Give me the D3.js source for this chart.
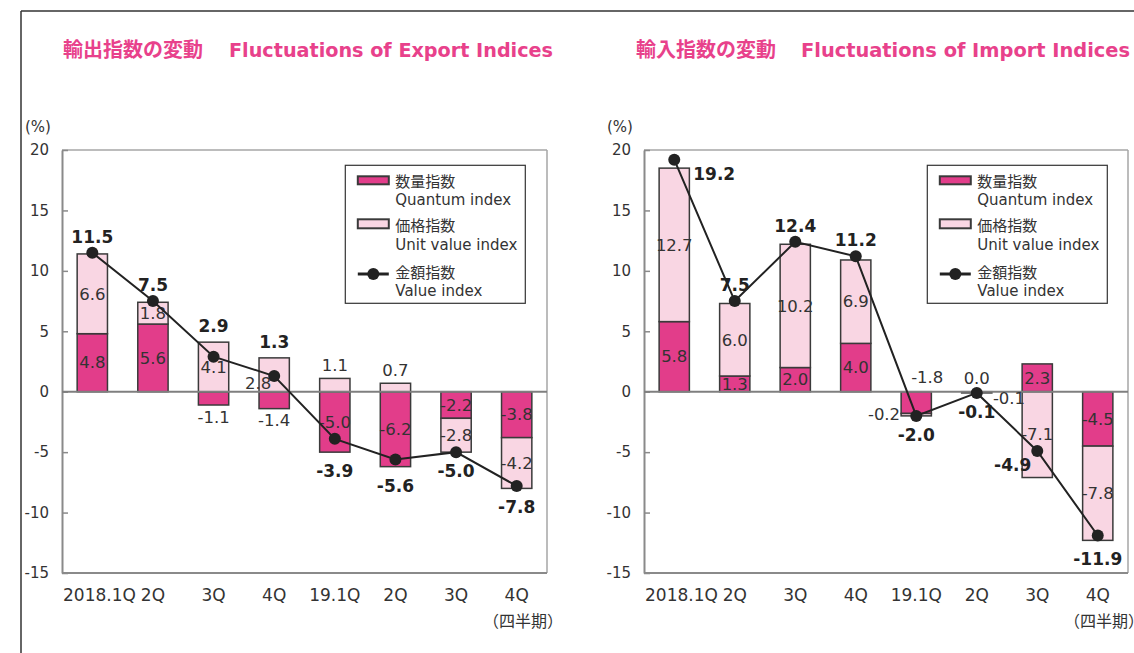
<!DOCTYPE html>
<html><head><meta charset="utf-8">
<script src="https://cdn.jsdelivr.net/npm/d3@7"></script>
<style>
body{margin:0;background:#fff}
svg{display:block}
text{font-family:"DejaVu Sans","Noto Sans CJK JP",sans-serif}
</style>
</head><body>
<svg id="c" width="1134" height="653"></svg>
<script>
// ---------- data ----------
const categories = ["2018.1Q", "2Q", "3Q", "4Q", "19.1Q", "2Q", "3Q", "4Q"];
const yTicks = [-15, -10, -5, 0, 5, 10, 15, 20];

const exportQuantum = [4.8, 5.6, -1.1, -1.4, -5.0, -6.2, -2.2, -3.8];
const exportUnit    = [6.6, 1.8, 4.1, 2.8, 1.1, 0.7, -2.8, -4.2];
const exportValue   = [11.5, 7.5, 2.9, 1.3, -3.9, -5.6, -5.0, -7.8];

const importQuantum = [5.8, 1.3, 2.0, 4.0, -1.8, 0.0, 2.3, -4.5];
const importUnit    = [12.7, 6.0, 10.2, 6.9, -0.2, -0.1, -7.1, -7.8];
const importValue   = [19.2, 7.5, 12.4, 11.2, -2.0, -0.1, -4.9, -11.9];

const legendLabels = [["数量指数", "Quantum index"], ["価格指数", "Unit value index"], ["金額指数", "Value index"]];

// label placement modes (annotation layout)
const exportModes = {
  q: ["in", "in", "out", "out", "in", "in", "in", "in"],
  u: ["in", "in", "in", "inLeft", "out", "out", "in", "in"],
  v: ["auto", "auto", "auto", "auto", "auto", "auto", "auto", "auto"]
};
const importModes = {
  q: ["in", "in", "in", "in", "top", "out", "in", "in"],
  u: ["in", "in", "in", "in", "left", "right", "in", "in"],
  v: ["right", "auto", "auto", "auto", "auto", "auto", "left", "auto"]
};

// ---------- style ----------
const COL = { q: "#e23d8a", u: "#f9d6e3", stroke: "#3a3a3a", text: "#333333", title: "#e8418b", axis: "#8a8a8a", line: "#222222" };

const svg = d3.select("#c");

// outer frame
svg.append("line").attr("x1", 21).attr("x2", 1134).attr("y1", 11).attr("y2", 11)
  .attr("stroke", "#333").attr("stroke-width", 1.5);
svg.append("line").attr("x1", 21).attr("x2", 21).attr("y1", 11).attr("y2", 653)
  .attr("stroke", "#333").attr("stroke-width", 1.5);

function drawChart(opt) {
  const { x0, x1, quantum, unit, value, modes } = opt;
  const yTop = 150, yBot = 573;
  const g = svg.append("g");

  const y = d3.scaleLinear().domain([d3.min(yTicks), d3.max(yTicks)]).range([yBot, yTop]);
  const x = d3.scaleBand().domain(d3.range(categories.length)).range([x0, x1])
    .paddingInner(0.5).paddingOuter(0.25);
  const bw = x.bandwidth();
  const cx = i => x(i) + bw / 2;

  // title
  g.append("text").attr("x", opt.titleX).attr("y", 57).attr("font-size", 20).attr("font-weight", "bold")
    .attr("fill", COL.title).text(opt.titleJa);
  g.append("text").attr("x", opt.titleEnX).attr("y", 57).attr("font-size", 19).attr("font-weight", "bold")
    .attr("fill", COL.title).attr("textLength", opt.titleEnW).attr("lengthAdjust", "spacingAndGlyphs")
    .text(opt.titleEn);

  // (%) unit
  g.append("text").attr("x", x0 - 37).attr("y", 127).attr("dy", "0.35em").attr("font-size", 15)
    .attr("fill", COL.text).text("(%)");

  // plot frame
  g.append("line").attr("x1", x0).attr("x2", x1).attr("y1", yTop).attr("y2", yTop).attr("stroke", "#a6a6a6").attr("stroke-width", 1.5);
  g.append("line").attr("x1", x1).attr("x2", x1).attr("y1", yTop).attr("y2", yBot).attr("stroke", "#a6a6a6").attr("stroke-width", 1.5);
  g.append("line").attr("x1", x0).attr("x2", x1).attr("y1", yBot).attr("y2", yBot).attr("stroke", COL.axis).attr("stroke-width", 2);

  // y axis
  const ya = g.append("g").attr("transform", `translate(${x0},0)`)
    .call(d3.axisLeft(y).tickValues(yTicks).tickSizeInner(-6).tickSizeOuter(0).tickPadding(13).tickFormat(d => String(d)));
  ya.select(".domain").attr("stroke", COL.axis).attr("stroke-width", 2);
  ya.selectAll(".tick line").attr("stroke", COL.axis).attr("stroke-width", 1.5);
  ya.selectAll(".tick text").attr("font-size", 15).attr("fill", COL.text)
    .attr("font-family", '"DejaVu Sans","Noto Sans CJK JP",sans-serif');

  // x axis labels
  const xa = g.append("g").attr("transform", `translate(0,${yBot})`)
    .call(d3.axisBottom(x).tickSize(0).tickFormat(i => categories[i]));
  xa.select(".domain").remove();
  xa.selectAll(".tick text").attr("font-size", 17).attr("fill", COL.text)
    .attr("font-family", '"DejaVu Sans","Noto Sans CJK JP",sans-serif')
    .attr("y", 27.5).attr("dy", 0);
  xa.selectAll(".tick").filter(i => i === 0).select("text")
    .attr("text-anchor", "start").attr("x", x0 + 1 - cx(0));

  // (四半期)
  g.append("text").attr("x", x1 - 64).attr("y", 621).attr("dy", "0.35em").attr("font-size", 16)
    .attr("fill", COL.text).text("（四半期）");

  // stacked bars
  const rows = categories.map((c, i) => ({ i, q: quantum[i], u: unit[i] }));
  const stacked = d3.stack().keys(["q", "u"]).offset(d3.stackOffsetDiverging)(rows);

  const barG = g.append("g");
  stacked.forEach(s => {
    barG.selectAll(null).data(s).enter().append("rect")
      .attr("x", (d, i) => x(i))
      .attr("width", bw)
      .attr("y", d => y(Math.max(d[0], d[1])))
      .attr("height", d => Math.abs(y(d[0]) - y(d[1])))
      .attr("fill", COL[s.key])
      .attr("stroke", COL.stroke).attr("stroke-width", 1.5);
  });

  // zero line
  g.append("line").attr("x1", x0).attr("x2", x1).attr("y1", y(0)).attr("y2", y(0))
    .attr("stroke", "#7f7f7f").attr("stroke-width", 2);

  // stack extents
  const posTop = categories.map((c, i) => d3.max(stacked, s => Math.max(s[i][0], s[i][1])));
  const negBot = categories.map((c, i) => d3.min(stacked, s => Math.min(s[i][0], s[i][1])));

  // segment labels
  const labG = g.append("g").attr("font-size", 16.5).attr("fill", COL.text);
  stacked.forEach(s => {
    const vals = s.key === "q" ? quantum : unit;
    s.forEach((d, i) => {
      const mode = modes[s.key][i];
      const v = vals[i];
      const mid = y((d[0] + d[1]) / 2);
      let px = cx(i), py = mid, anchor = "middle";
      if (mode === "out") {
        py = v >= 0 ? y(posTop[i]) - 13 : y(negBot[i]) + 12;
      } else if (mode === "inLeft") {
        px = cx(i) - 16; py = mid + 8;
      } else if (mode === "top") {
        px = cx(i) + 11; py = y(0) - 14;
      } else if (mode === "left") {
        px = x(i) - 1; anchor = "end";
      } else if (mode === "right") {
        px = x(i) + bw + 1; py = mid + 6; anchor = "start";
      }
      labG.append("text").attr("x", px).attr("y", py).attr("dy", "0.35em")
        .attr("text-anchor", anchor).text(v.toFixed(1));
    });
  });

  // value index line + markers
  g.append("path").datum(value)
    .attr("d", d3.line().x((d, i) => cx(i)).y(d => y(d)))
    .attr("fill", "none").attr("stroke", COL.line).attr("stroke-width", 2);
  g.selectAll(null).data(value).enter().append("circle")
    .attr("cx", (d, i) => cx(i)).attr("cy", d => y(d)).attr("r", 6).attr("fill", COL.line);

  // value labels (bold)
  const vG = g.append("g").attr("font-size", 17).attr("font-weight", "bold").attr("fill", "#222");
  value.forEach((v, i) => {
    const my = y(v), mode = modes.v[i];
    let px = cx(i), py, anchor = "middle";
    if (mode === "right") {
      px = cx(i) + 19; py = my + 14; anchor = "start";
    } else if (mode === "left") {
      px = cx(i) - 6; py = my + 14; anchor = "end";
    } else if (v >= 0) {
      py = Math.min(my, y(posTop[i])) - 16;
    } else {
      py = Math.max(my, y(negBot[i])) + 19;
    }
    vG.append("text").attr("x", px).attr("y", py).attr("dy", "0.35em")
      .attr("text-anchor", anchor).text(v.toFixed(1));
  });

  // legend
  const lx = x0 + 283.3, ly = 165.3;
  const lg = g.append("g");
  lg.append("rect").attr("x", lx).attr("y", ly).attr("width", 180).attr("height", 138)
    .attr("fill", "#fff").attr("stroke", "#333").attr("stroke-width", 1.2);
  const sx = lx + 12.5, sw = 31;
  lg.append("rect").attr("x", sx).attr("y", ly + 11).attr("width", sw).attr("height", 8)
    .attr("fill", COL.q).attr("stroke", COL.stroke).attr("stroke-width", 2);
  lg.append("rect").attr("x", sx).attr("y", ly + 54).attr("width", sw).attr("height", 9)
    .attr("fill", COL.u).attr("stroke", COL.stroke).attr("stroke-width", 2);
  lg.append("line").attr("x1", sx).attr("x2", sx + sw).attr("y1", ly + 108.7).attr("y2", ly + 108.7)
    .attr("stroke", COL.line).attr("stroke-width", 3);
  lg.append("circle").attr("cx", sx + sw / 2).attr("cy", ly + 108.7).attr("r", 6).attr("fill", COL.line);
  const ty = [[16.4, 34.7], [60.4, 79.7], [107.4, 125.4]];
  legendLabels.forEach((pair, k) => {
    pair.forEach((t, j) => {
      lg.append("text").attr("x", lx + 50).attr("y", ly + ty[k][j]).attr("dy", "0.35em")
        .attr("font-size", 15).attr("fill", COL.text).text(t);
    });
  });
}

drawChart({
  x0: 62, x1: 547, quantum: exportQuantum, unit: exportUnit, value: exportValue, modes: exportModes,
  titleJa: "輸出指数の変動", titleEn: "Fluctuations of Export Indices", titleX: 63, titleEnX: 229, titleEnW: 324
});
drawChart({
  x0: 644, x1: 1128, quantum: importQuantum, unit: importUnit, value: importValue, modes: importModes,
  titleJa: "輸入指数の変動", titleEn: "Fluctuations of Import Indices", titleX: 636, titleEnX: 801, titleEnW: 329
});
</script>
</body></html>
